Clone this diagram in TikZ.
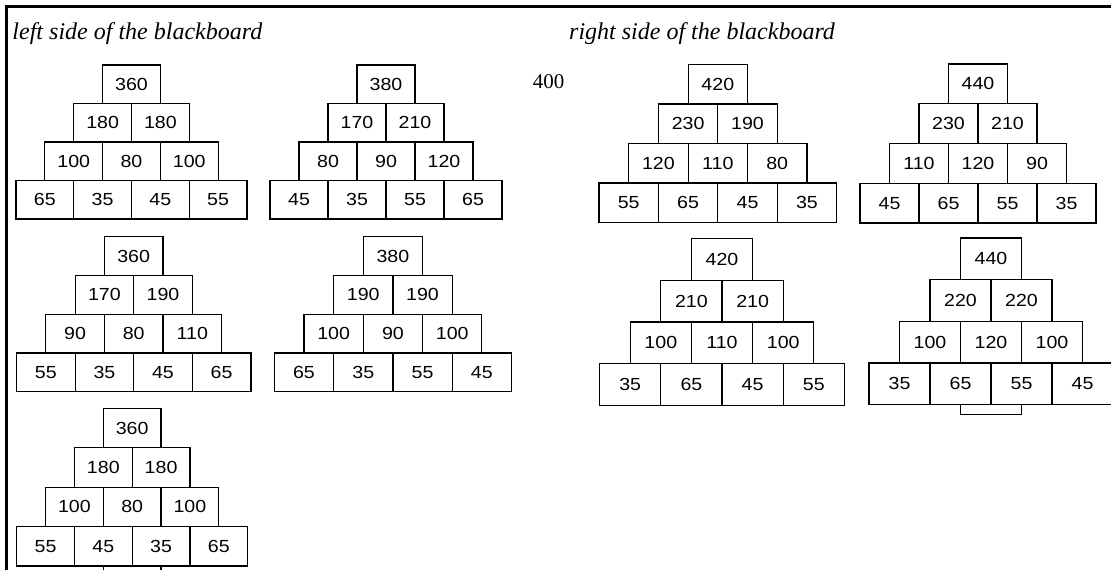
\documentclass[tikz,border=0pt]{standalone}
\usepackage{fontspec}
\setmainfont{Liberation Serif}
\newfontfamily\numfont[FakeStretch=1.12]{Liberation Sans}
\newcommand\pyramid[6]{%
  \foreach \rr/\cc/\lab in {#6}{%
    \node[cell, minimum width=#4pt, minimum height=#5pt] (#1-\rr-\cc)
      at ({#2+(4-\rr)*#4/2+(\cc-0.5)*#4},{#3+(\rr-0.5)*#5}) {\lab};
  }}
\begin{document}
\begin{tikzpicture}[x=1pt,y=-1pt,
  cell/.style={draw, line width=1.2pt, inner sep=0pt, outer sep=0pt,
    font=\numfont\fontsize{17.5}{19}\selectfont},
  title/.style={anchor=base west, inner sep=0pt, font=\itshape\fontsize{24}{26}\selectfont},
  frame/.style={line width=3.4pt, line join=miter}]
\useasboundingbox (0,0) rectangle (1111,570);
\fill[white] (0,0) rectangle (1111,570);
% frame
\coordinate (fr-a) at (1120,6.7);
\coordinate (fr-b) at (6.7,6.7);
\coordinate (fr-c) at (6.7,580);
\draw[frame] (fr-a) -- (fr-b) -- (fr-c);
% titles
\node[title] (tl) at (12.3,39.5) {left side of the blackboard};
\node[title] (tr) at (569,39.5) {right side of the blackboard};
\node[inner sep=0pt, font=\fontsize{21}{23}\selectfont] (n400) at (548.5,81.5) {400};
% pyramids
\pyramid{p1}{16}{65}{57.75}{38.5}{1/1/360,2/1/180,2/2/180,3/1/100,3/2/80,3/3/100,4/1/65,4/2/35,4/3/45,4/4/55}
\pyramid{p2}{270}{65}{58}{38.5}{1/1/380,2/1/170,2/2/210,3/1/80,3/2/90,3/3/120,4/1/45,4/2/35,4/3/55,4/4/65}
\pyramid{p3}{599}{64.5}{59.4}{39.5}{1/1/420,2/1/230,2/2/190,3/1/120,3/2/110,3/3/80,4/1/55,4/2/65,4/3/45,4/4/35}
\pyramid{p4}{860}{64}{59}{39.75}{1/1/440,2/1/230,2/2/210,3/1/110,3/2/120,3/3/90,4/1/45,4/2/65,4/3/55,4/4/35}
\pyramid{p5}{16.5}{236.7}{58.6}{38.75}{1/1/360,2/1/170,2/2/190,3/1/90,3/2/80,3/3/110,4/1/55,4/2/35,4/3/45,4/4/65}
\pyramid{p6}{274.3}{236.7}{59.3}{38.75}{1/1/380,2/1/190,2/2/190,3/1/100,3/2/90,3/3/100,4/1/65,4/2/35,4/3/55,4/4/45}
\pyramid{p7}{599.6}{238.5}{61.2}{41.7}{1/1/420,2/1/210,2/2/210,3/1/100,3/2/110,3/3/100,4/1/35,4/2/65,4/3/45,4/4/55}
\pyramid{p8}{869}{238}{61}{41.65}{1/1/440,2/1/220,2/2/220,3/1/100,3/2/120,3/3/100,4/1/35,4/2/65,4/3/55,4/4/45}
\pyramid{p9}{16.7}{408.3}{57.75}{39.4}{1/1/360,2/1/180,2/2/180,3/1/100,3/2/80,3/3/100,4/1/55,4/2/45,4/3/35,4/4/65}
% partial boxes below
\node[cell, minimum width=61pt, minimum height=10.2pt] (p8-below) at (991,409.7) {};
\node[cell, minimum width=57.75pt, minimum height=39.4pt] (p9-below) at (132.2,585.7) {};
\end{tikzpicture}
\end{document}
